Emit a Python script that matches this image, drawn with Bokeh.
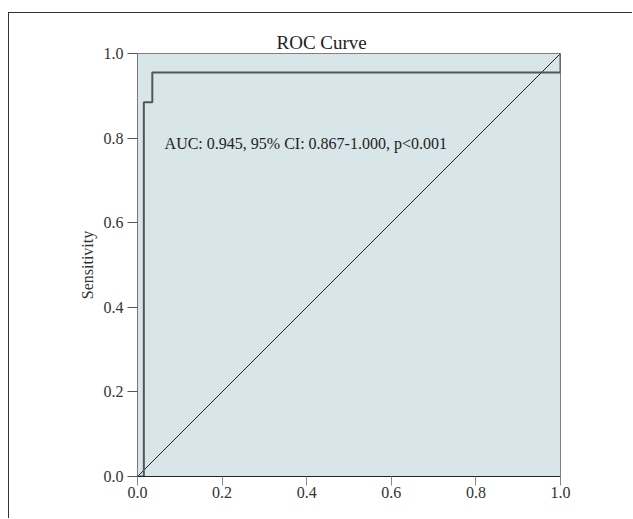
from bokeh.plotting import figure
from bokeh.models import Range1d, FixedTicker, Label
from bokeh.embed import file_html
from bokeh.resources import INLINE

# ROC curve data
fpr = [0.0, 0.015, 0.015, 0.035, 0.035, 1.0, 1.0]
tpr = [0.0, 0.0, 0.885, 0.885, 0.955, 0.955, 1.0]
diag_x = [0.0, 1.0]
diag_y = [0.0, 1.0]
ticks = [0.0, 0.2, 0.4, 0.6, 0.8, 1.0]
tick_labels = {t: f"{t:.1f}" for t in ticks}
annotation = "AUC: 0.945, 95% CI: 0.867-1.000, p<0.001"
ann_x, ann_y = 0.064, 0.787

FONT = "Liberation Serif"

p = figure(width=624, height=506, output_backend="svg", toolbar_location=None,
           x_range=Range1d(0, 1), y_range=Range1d(0, 1),
           min_border_left=128, min_border_right=73, min_border_top=40,
           min_border_bottom=43, title="ROC Curve")
p.margin = (12, 0, 0, 8)
p.styles = {"border-top": "1px solid #333", "border-left": "1px solid #333"}

p.title.text_font = FONT
p.title.text_font_size = "19px"
p.title.text_font_style = "normal"
p.title.text_color = "#222222"
p.title.align = "left"
p.title.offset = 139
p.title.standoff = 1

p.background_fill_color = "#d9e6e9"
p.border_fill_color = "white"
p.outline_line_color = "#808080"
p.outline_line_width = 1
p.grid.visible = False

for ax in (p.xaxis[0], p.yaxis[0]):
    ax.ticker = FixedTicker(ticks=ticks)
    ax.major_label_overrides = tick_labels
    ax.minor_tick_line_color = None
    ax.major_label_text_font = FONT
    ax.major_label_text_font_size = "16px"
    ax.major_label_text_color = "#333333"
    ax.major_tick_in = 0

p.xaxis.axis_line_color = "#222222"
p.xaxis.major_tick_out = 9
p.xaxis.major_tick_line_color = "#888888"
p.xaxis.major_label_standoff = 1

p.yaxis.axis_line_color = "#777777"
p.yaxis.major_tick_out = 10
p.yaxis.major_tick_line_color = "#555555"
p.yaxis.major_label_standoff = 4
p.yaxis.axis_label = "Sensitivity"
p.yaxis.axis_label_text_font = FONT
p.yaxis.axis_label_text_font_size = "16px"
p.yaxis.axis_label_text_font_style = "normal"
p.yaxis.axis_label_text_color = "#333333"
p.yaxis.axis_label_standoff = 5

p.line(diag_x, diag_y, line_color="#222222", line_width=1)
p.line(fpr, tpr, line_color="#555555", line_width=2)

p.add_layout(Label(x=ann_x, y=ann_y, text=annotation, text_font=FONT,
                   text_font_size="16px", text_color="#222222",
                   text_baseline="middle", text_align="left"))

open("out.html", "w").write(file_html(p, INLINE))
